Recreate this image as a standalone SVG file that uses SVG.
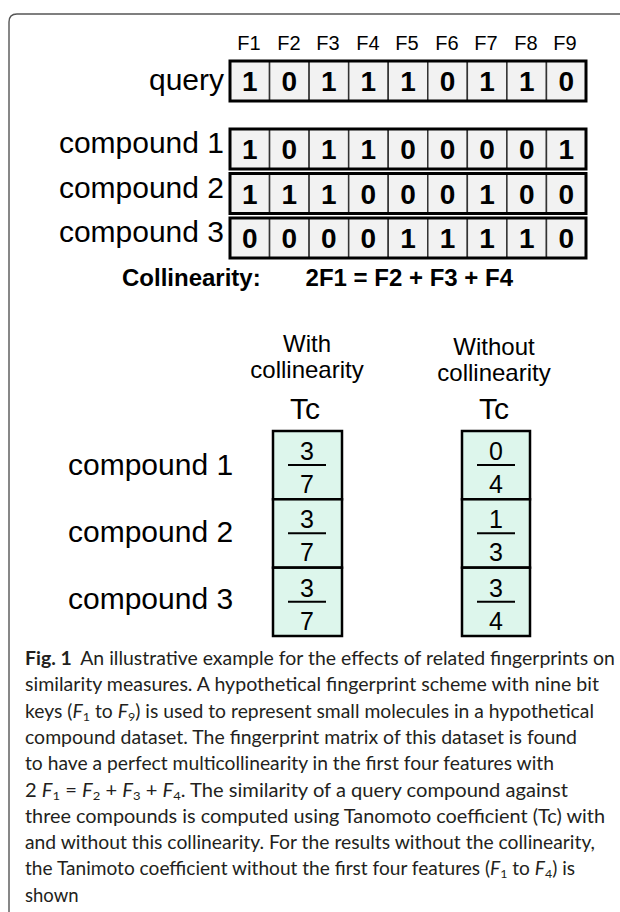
<svg xmlns="http://www.w3.org/2000/svg" width="620" height="912" viewBox="0 0 620 912">
  <style>
    .lbl { font-family: "Liberation Sans", Arial, sans-serif; fill: #000; }
    .feat { font-size: 20px; text-anchor: middle; }
    .row { font-size: 30px; text-anchor: end; }
    .bit { font-size: 28px; font-weight: bold; text-anchor: middle; }
    .cell { fill: #f2f2f2; stroke: #333; stroke-width: 1.5; }
    .outline { fill: none; stroke: #000; stroke-width: 3; }
    .tcbox { fill: #ddf6ec; stroke: #000; stroke-width: 2.5; }
    .frac { font-size: 25px; text-anchor: middle; }
    .bar { stroke: #000; stroke-width: 2; }
    .head { font-size: 24px; text-anchor: middle; }
    .tc { font-size: 30px; text-anchor: middle; }
    .cap { font-family: Lato, "Open Sans", sans-serif; font-size: 18.5px; fill: #231f20; }
    .sub { font-size: 12px; }
  </style>

  <!-- panel frame -->
  <path d="M9,912 V22 Q9,14 17,14 H620" fill="none" stroke="#555" stroke-width="1.4"/>

  <!-- feature header -->
  <g id="features" class="lbl feat">
    <text x="249" y="50">F1</text>
    <text x="289" y="50">F2</text>
    <text x="328" y="50">F3</text>
    <text x="368" y="50">F4</text>
    <text x="407" y="50">F5</text>
    <text x="447" y="50">F6</text>
    <text x="486" y="50">F7</text>
    <text x="526" y="50">F8</text>
    <text x="565" y="50">F9</text>
  </g>

  <defs>
    <g id="cells9">
      <rect class="cell" x="0" y="0" width="39.56" height="40"/>
      <rect class="cell" x="39.56" y="0" width="39.56" height="40"/>
      <rect class="cell" x="79.11" y="0" width="39.56" height="40"/>
      <rect class="cell" x="118.67" y="0" width="39.56" height="40"/>
      <rect class="cell" x="158.22" y="0" width="39.56" height="40"/>
      <rect class="cell" x="197.78" y="0" width="39.56" height="40"/>
      <rect class="cell" x="237.33" y="0" width="39.56" height="40"/>
      <rect class="cell" x="276.89" y="0" width="39.56" height="40"/>
      <rect class="cell" x="316.44" y="0" width="39.56" height="40"/>
      <rect class="outline" x="0" y="0" width="356" height="40"/>
    </g>
  </defs>

  <!-- fingerprint rows -->
  <g id="query">
    <text class="lbl row" x="224" y="90">query</text>
    <use href="#cells9" x="230" y="61"/>
    <g class="lbl bit">
      <text x="249.8" y="91">1</text><text x="289.3" y="91">0</text><text x="328.9" y="91">1</text>
      <text x="368.4" y="91">1</text><text x="408" y="91">1</text><text x="447.6" y="91">0</text>
      <text x="487.1" y="91">1</text><text x="526.7" y="91">1</text><text x="566.2" y="91">0</text>
    </g>
  </g>

  <g id="compound1">
    <text class="lbl row" x="224" y="153">compound 1</text>
    <use href="#cells9" x="230" y="129"/>
    <g class="lbl bit">
      <text x="249.8" y="159">1</text><text x="289.3" y="159">0</text><text x="328.9" y="159">1</text>
      <text x="368.4" y="159">1</text><text x="408" y="159">0</text><text x="447.6" y="159">0</text>
      <text x="487.1" y="159">0</text><text x="526.7" y="159">0</text><text x="566.2" y="159">1</text>
    </g>
  </g>

  <g id="compound2">
    <text class="lbl row" x="224" y="197.5">compound 2</text>
    <use href="#cells9" x="230" y="173.5"/>
    <g class="lbl bit">
      <text x="249.8" y="203.5">1</text><text x="289.3" y="203.5">1</text><text x="328.9" y="203.5">1</text>
      <text x="368.4" y="203.5">0</text><text x="408" y="203.5">0</text><text x="447.6" y="203.5">0</text>
      <text x="487.1" y="203.5">1</text><text x="526.7" y="203.5">0</text><text x="566.2" y="203.5">0</text>
    </g>
  </g>

  <g id="compound3">
    <text class="lbl row" x="224" y="242">compound 3</text>
    <use href="#cells9" x="230" y="218"/>
    <g class="lbl bit">
      <text x="249.8" y="248">0</text><text x="289.3" y="248">0</text><text x="328.9" y="248">0</text>
      <text x="368.4" y="248">0</text><text x="408" y="248">1</text><text x="447.6" y="248">1</text>
      <text x="487.1" y="248">1</text><text x="526.7" y="248">1</text><text x="566.2" y="248">0</text>
    </g>
  </g>

  <!-- collinearity relation -->
  <g id="collinearity" class="lbl" font-size="24" font-weight="bold">
    <text x="122" y="286">Collinearity:</text>
    <text x="513" y="286" text-anchor="end">2F1 = F2 + F3 + F4</text>
  </g>

  <!-- Tanimoto table: row labels -->
  <g id="tc-rows" class="lbl" font-size="30">
    <text x="68" y="475">compound 1</text>
    <text x="68" y="542">compound 2</text>
    <text x="68" y="609">compound 3</text>
  </g>

  <!-- with collinearity column -->
  <g id="tc-with">
    <text class="lbl head" x="307" y="352">With</text>
    <text class="lbl head" x="307" y="378">collinearity</text>
    <text class="lbl tc" x="305" y="419">Tc</text>
    <rect class="tcbox" x="273" y="431" width="69" height="68.3"/>
    <rect class="tcbox" x="273" y="499.3" width="69" height="68.3"/>
    <rect class="tcbox" x="273" y="567.7" width="69" height="68.3"/>
    <g class="lbl frac">
      <text x="307" y="460">3</text><line class="bar" x1="288" y1="465" x2="326" y2="465"/><text x="307" y="493">7</text>
      <text x="307" y="528.3">3</text><line class="bar" x1="288" y1="533.3" x2="326" y2="533.3"/><text x="307" y="561.3">7</text>
      <text x="307" y="596.7">3</text><line class="bar" x1="288" y1="601.7" x2="326" y2="601.7"/><text x="307" y="629.7">7</text>
    </g>
  </g>

  <!-- without collinearity column -->
  <g id="tc-without">
    <text class="lbl head" x="494" y="355">Without</text>
    <text class="lbl head" x="494" y="381">collinearity</text>
    <text class="lbl tc" x="494" y="419">Tc</text>
    <rect class="tcbox" x="462" y="431" width="68" height="68.3"/>
    <rect class="tcbox" x="462" y="499.3" width="68" height="68.3"/>
    <rect class="tcbox" x="462" y="567.7" width="68" height="68.3"/>
    <g class="lbl frac">
      <text x="496" y="460">0</text><line class="bar" x1="477" y1="465" x2="515" y2="465"/><text x="496" y="493">4</text>
      <text x="496" y="528.3">1</text><line class="bar" x1="477" y1="533.3" x2="515" y2="533.3"/><text x="496" y="561.3">3</text>
      <text x="496" y="596.7">3</text><line class="bar" x1="477" y1="601.7" x2="515" y2="601.7"/><text x="496" y="629.7">4</text>
    </g>
  </g>

  <!-- caption -->
  <g id="caption" class="cap">
    <text x="25" y="665" textLength="590" lengthAdjust="spacingAndGlyphs"><tspan font-weight="bold">Fig. 1</tspan><tspan dx="8">An illustrative example for the effects of related fingerprints on</tspan></text>
    <text x="25" y="691.3" textLength="574" lengthAdjust="spacingAndGlyphs">similarity measures. A hypothetical fingerprint scheme with nine bit</text>
    <text x="25" y="717.6" textLength="569" lengthAdjust="spacingAndGlyphs">keys (<tspan font-style="italic">F</tspan><tspan class="sub" dy="3">1</tspan><tspan dy="-3"> to </tspan><tspan font-style="italic">F</tspan><tspan class="sub" dy="3">9</tspan><tspan dy="-3">) is used to represent small molecules in a hypothetical</tspan></text>
    <text x="25" y="743.9" textLength="552" lengthAdjust="spacingAndGlyphs">compound dataset. The fingerprint matrix of this dataset is found</text>
    <text x="25" y="770.2" textLength="529" lengthAdjust="spacingAndGlyphs">to have a perfect multicollinearity in the first four features with</text>
    <text x="25" y="796.5" textLength="543" lengthAdjust="spacingAndGlyphs">2 <tspan font-style="italic">F</tspan><tspan class="sub" dy="3">1</tspan><tspan dy="-3"> = </tspan><tspan font-style="italic">F</tspan><tspan class="sub" dy="3">2</tspan><tspan dy="-3"> + </tspan><tspan font-style="italic">F</tspan><tspan class="sub" dy="3">3</tspan><tspan dy="-3"> + </tspan><tspan font-style="italic">F</tspan><tspan class="sub" dy="3">4</tspan><tspan dy="-3">. The similarity of a query compound against</tspan></text>
    <text x="25" y="822.8" textLength="580" lengthAdjust="spacingAndGlyphs">three compounds is computed using Tanomoto coefficient (Tc) with</text>
    <text x="25" y="849.1" textLength="570" lengthAdjust="spacingAndGlyphs">and without this collinearity. For the results without the collinearity,</text>
    <text x="25" y="875.4" textLength="550" lengthAdjust="spacingAndGlyphs">the Tanimoto coefficient without the first four features (<tspan font-style="italic">F</tspan><tspan class="sub" dy="3">1</tspan><tspan dy="-3"> to </tspan><tspan font-style="italic">F</tspan><tspan class="sub" dy="3">4</tspan><tspan dy="-3">) is</tspan></text>
    <text x="25" y="901.7">shown</text>
  </g>
</svg>
